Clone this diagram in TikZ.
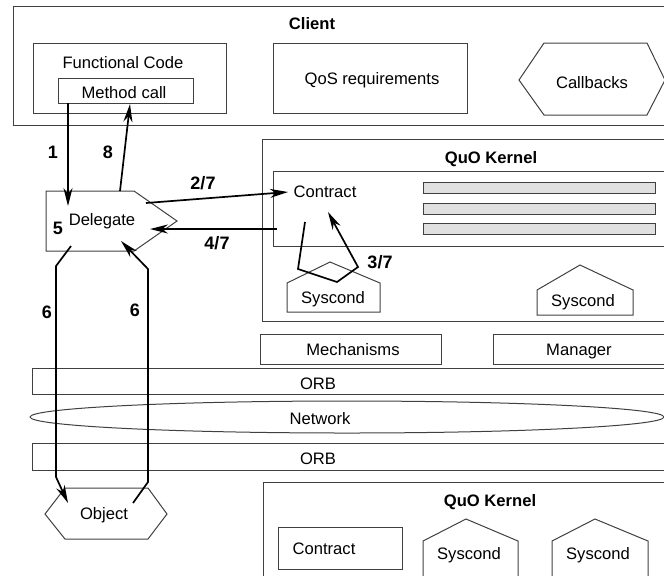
\documentclass[tikz,border=0pt]{standalone}
\usepackage{fontspec}
\setmainfont{Liberation Sans}
\usetikzlibrary{arrows.meta,fit,shapes.geometric}
\tikzset{
  box/.style={draw=black!75, line width=0.5pt, inner sep=0pt},
  bar/.style={box, fill=black!12},
  txt/.style={font=\fontsize{8.3}{10}\selectfont, inner sep=0pt, text height=6pt, text depth=0pt},
  title/.style={txt, font=\fontsize{8.3}{10}\selectfont\bfseries},
  num/.style={txt, font=\fontsize{9}{10}\selectfont\bfseries, text height=6.5pt},
  flow/.style={line width=0.85pt, -{Stealth[length=9pt,width=4.5pt]}}
}
\begin{document}
\begin{tikzpicture}[x=0.5pt,y=-0.5pt]
    \useasboundingbox (0,0) rectangle (664,575);

    \node[box, fit={(13,6) (670,125)}] (client) {};
    \node[title] (clientlbl) at (312,23) {Client};
    \node[box, fit={(33,43) (226,113)}] (func) {};
    \node[txt] (funclbl) at (123,62) {Functional Code};
    \node[box, fit={(58,78) (193,103)}] (mcall) {};
    \node[txt] (mcalllbl) at (124,92) {Method call};
    \node[box, fit={(273,43) (467,113)}] (qos) {};
    \node[txt] (qoslbl) at (372,78) {QoS requirements};
    \draw[box] (519,80) -- (544,43) -- (647,43) -- (665,80) -- (647,115) -- (544,115) -- cycle;
    \node[txt] (callb) at (592,82) {Callbacks};

    \draw[box] (46,191) -- (134,191) -- (177,221) -- (134,251) -- (46,251) -- cycle;
    \node[txt] (deleg) at (102,219) {Delegate};

    \node[box, fit={(262,139) (670,321)}] (kern) {};
    \node[title] (kernlbl) at (491,157) {QuO Kernel};
    \node[box, fit={(273,171) (670,246)}] (contr) {};
    \node[txt] (contrlbl) at (325,191) {Contract};
    \foreach \y/\n in {182/1,203/2,223/3}
        \node[bar, fit={(423,\y) (655,\y+11)}] (bar\n) {};
    \draw[box] (287,312) -- (287,283) -- (330,262) -- (380,283) -- (380,312) -- cycle;
    \node[txt] (sysa) at (333,297) {Syscond};
    \draw[box] (537,315) -- (537,290) -- (580,265) -- (633,290) -- (633,315) -- cycle;
    \node[txt] (sysb) at (583,300) {Syscond};

    \node[box, fit={(260,334) (441,364)}] (mech) {};
    \node[txt] (mechlbl) at (353,349) {Mechanisms};
    \node[box, fit={(493,334) (670,364)}] (mgr) {};
    \node[txt] (mgrlbl) at (579,349) {Manager};
    \node[box, fit={(32,368) (670,394)}] (orba) {};
    \node[txt] (orbalbl) at (318,383) {ORB};
    \node[box, ellipse, minimum width=317pt, minimum height=16pt] (net) at (347,417) {};
    \node[txt] (netlbl) at (320,418) {Network};
    \node[box, fit={(32,443) (670,470)}] (orbb) {};
    \node[txt] (orbblbl) at (318,458) {ORB};

    \draw[box] (45,514) -- (65,488) -- (148,488) -- (167,514) -- (148,539) -- (65,539) -- cycle;
    \node[txt] (obj) at (104,513) {Object};

    \node[box, fit={(263,482) (670,600)}] (skern) {};
    \node[title] (skernlbl) at (490,500) {QuO Kernel};
    \node[box, fit={(278,527) (402,569)}] (scontr) {};
    \node[txt] (scontrlbl) at (324,548) {Contract};
    \draw[box] (423,580) -- (423,541) -- (466,519) -- (518,541) -- (518,580) -- cycle;
    \node[txt] (sysc) at (469,553) {Syscond};
    \draw[box] (552,580) -- (552,541) -- (595,519) -- (648,541) -- (648,580) -- cycle;
    \node[txt] (sysd) at (598,553) {Syscond};

    \coordinate (mcout) at (68,103);
    \coordinate (dgin) at (68,206);
    \coordinate (dgout) at (120,191);
    \coordinate (mcin) at (130,104);
    \coordinate (dgcall) at (146,203);
    \coordinate (ctin) at (288,192);
    \coordinate (ctout) at (277,229);
    \coordinate (dgret) at (150,229);
    \coordinate (ctdown) at (305,222);
    \coordinate (syleft) at (298,269);
    \coordinate (sybot) at (337,282);
    \coordinate (syright) at (358,267);
    \coordinate (ctup) at (328,212);
    \coordinate (dgdown) at (71,246);
    \coordinate (lbend) at (56,266);
    \coordinate (lfoot) at (56,477);
    \coordinate (objin) at (68,503);
    \coordinate (objout) at (133,503);
    \coordinate (rfoot) at (148,482);
    \coordinate (rbend) at (148,269);
    \coordinate (dgup) at (121,241);

    \draw[flow] (mcout) -- (dgin);
    \draw[flow] (dgout) -- (mcin);
    \draw[flow] (dgcall) -- (ctin);
    \draw[flow] (ctout) -- (dgret);
    \draw[flow] (ctdown) -- (syleft) -- (sybot) -- (syright) -- (ctup);
    \draw[flow] (dgdown) -- (lbend) -- (lfoot) -- (objin);
    \draw[flow] (objout) -- (rfoot) -- (rbend) -- (dgup);

    \node[num] (n1) at (53,152) {1};
    \node[num] (n8) at (108,152) {8};
    \node[num] (n5) at (58,228) {5};
    \node[num] (n27) at (203,183) {2/7};
    \node[num] (n47) at (217,243) {4/7};
    \node[num] (n37) at (380,262) {3/7};
    \node[num] (n6a) at (47,312) {6};
    \node[num] (n6b) at (135,310) {6};
\end{tikzpicture}
\end{document}
